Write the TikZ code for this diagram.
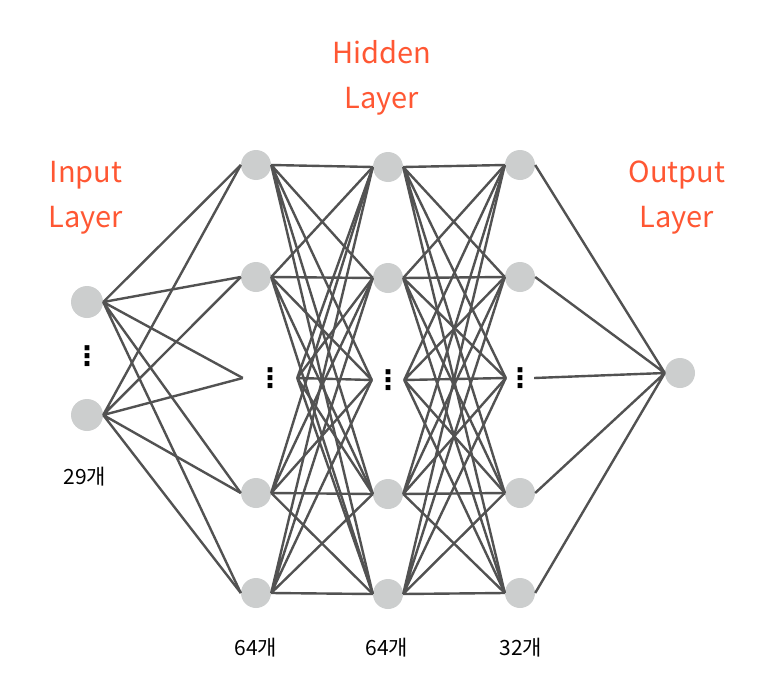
\documentclass[tikz,border=0pt]{standalone}
\usepackage{fontspec}
\newfontfamily\krfont{Noto Sans CJK KR}
\newfontfamily\symfont{DejaVu Sans}
\definecolor{TitleRed}{RGB}{255,87,51}
\definecolor{UnitFill}{RGB}{204,206,206}
\definecolor{LinkLine}{RGB}{82,82,82}
\tikzset{
  nd_unit/.style={
    circle, fill=UnitFill, minimum size=30pt, inner sep=0pt},
  nd_dots/.style={
    inner sep=0pt, minimum height=24pt,
    font=\symfont\bfseries\fontsize{27}{27}\selectfont},
  nd_title/.style={
    align=center, text=TitleRed,
    font=\krfont\fontsize{29}{45}\selectfont},
  nd_count/.style={
    font=\krfont\fontsize{21}{21}\selectfont},
  lnk/.style={draw=LinkLine, line width=2.4pt},
}

\begin{document}
\begin{tikzpicture}[x=1pt,y=-1pt]
\useasboundingbox (0,0) rectangle (777,688);

%% column centres
\def\Ix{87} \def\Ax{256} \def\Bx{388} \def\Cx{520} \def\Ox{680}

%% titles
\node[nd_title] (TI) at (86,198)  {Input\\Layer};
\node[nd_title] (TH) at (382,78)  {Hidden\\Layer};
\node[nd_title] (TO) at (677,198) {Output\\Layer};

%% ── input layer ─────────────────────────────────────────────
\node[nd_unit,minimum size=32pt] (I1) at (\Ix,302) {};
\node[nd_dots]                   (ID) at (\Ix,356) {⋮};
\node[nd_unit,minimum size=32pt] (I2) at (\Ix,415) {};

%% ── hidden layers ───────────────────────────────────────────
\node[nd_unit] (A1) at (\Ax,165) {};
\node[nd_unit] (A2) at (\Ax,277) {};
\node[nd_dots,minimum width=54pt] (A3) at (270,378) {⋮};
\node[nd_unit] (A4) at (\Ax,493) {};
\node[nd_unit] (A5) at (\Ax,593) {};

\node[nd_unit] (B1) at (\Bx,167) {};
\node[nd_unit] (B2) at (\Bx,278) {};
\node[nd_dots,minimum width=32pt] (B3) at (\Bx,380) {⋮};
\node[nd_unit] (B4) at (\Bx,494) {};
\node[nd_unit] (B5) at (\Bx,594) {};

\node[nd_unit] (C1) at (\Cx,165) {};
\node[nd_unit] (C2) at (\Cx,277) {};
\node[nd_dots,minimum width=28pt] (C3) at (\Cx,378) {⋮};
\node[nd_unit] (C4) at (\Cx,493) {};
\node[nd_unit] (C5) at (\Cx,593) {};

%% ── output layer ────────────────────────────────────────────
\node[nd_unit] (O) at (\Ox,373) {};

%% counts
\node[nd_count] (NI) at (85,477)  {29개};
\node[nd_count] (NA) at (256,648) {64개};
\node[nd_count] (NB) at (387,648) {64개};
\node[nd_count] (NC) at (521,648) {32개};

%% input -> hidden 1
\draw[lnk] (I1.east)--(A1.west) (I1.east)--(A2.west) (I1.east)--(A3.west) (I1.east)--(A4.west) (I1.east)--(A5.west);
\draw[lnk] (I2.east)--(A1.west) (I2.east)--(A2.west) (I2.east)--(A3.west) (I2.east)--(A4.west) (I2.east)--(A5.west);

%% hidden 1 -> hidden 2
\draw[lnk] (A1.east)--(B1.west) (A1.east)--(B2.west) (A1.east)--(B3.west) (A1.east)--(B4.west) (A1.east)--(B5.west);
\draw[lnk] (A2.east)--(B1.west) (A2.east)--(B2.west) (A2.east)--(B3.west) (A2.east)--(B4.west) (A2.east)--(B5.west);
\draw[lnk] (A3.east)--(B1.west) (A3.east)--(B2.west) (A3.east)--(B3.west) (A3.east)--(B4.west) (A3.east)--(B5.west);
\draw[lnk] (A4.east)--(B1.west) (A4.east)--(B2.west) (A4.east)--(B3.west) (A4.east)--(B4.west) (A4.east)--(B5.west);
\draw[lnk] (A5.east)--(B1.west) (A5.east)--(B2.west) (A5.east)--(B3.west) (A5.east)--(B4.west) (A5.east)--(B5.west);

%% hidden 2 -> hidden 3
\draw[lnk] (B1.east)--(C1.west) (B1.east)--(C2.west) (B1.east)--(C3.west) (B1.east)--(C4.west) (B1.east)--(C5.west);
\draw[lnk] (B2.east)--(C1.west) (B2.east)--(C2.west) (B2.east)--(C3.west) (B2.east)--(C4.west) (B2.east)--(C5.west);
\draw[lnk] (B3.east)--(C1.west) (B3.east)--(C2.west) (B3.east)--(C3.west) (B3.east)--(C4.west) (B3.east)--(C5.west);
\draw[lnk] (B4.east)--(C1.west) (B4.east)--(C2.west) (B4.east)--(C3.west) (B4.east)--(C4.west) (B4.east)--(C5.west);
\draw[lnk] (B5.east)--(C1.west) (B5.east)--(C2.west) (B5.east)--(C3.west) (B5.east)--(C4.west) (B5.east)--(C5.west);

%% hidden 3 -> output
\draw[lnk] (C1.east)--(O.west) (C2.east)--(O.west) (C3.east)--(O.west) (C4.east)--(O.west) (C5.east)--(O.west);

\end{tikzpicture}
\end{document}
